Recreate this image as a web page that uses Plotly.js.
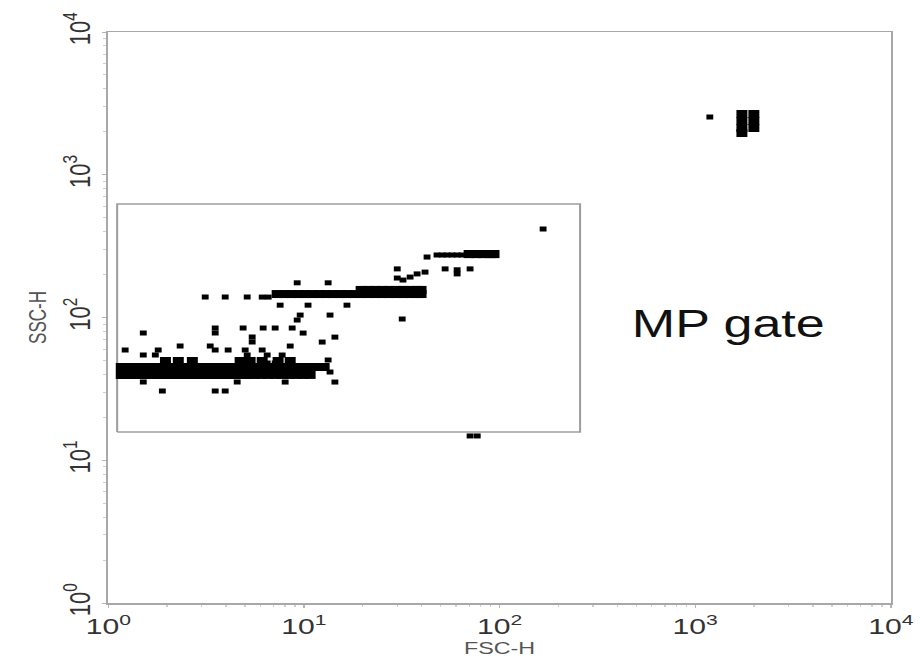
<!DOCTYPE html>
<html>
<head>
<meta charset="utf-8">
<script src="https://cdn.plot.ly/plotly-3.0.1.min.js"></script>
<style>
  html, body { margin: 0; padding: 0; background: #fff; }
  #wrap { width: 921px; height: 666px; overflow: hidden; }
  /* the cytometer export is a square plot stretched to a wide frame */
  #plot { width: 672px; height: 666px; transform: scaleX(1.3705); transform-origin: 0 0; }
</style>
</head>
<body>
<div id="wrap"><div id="plot"></div></div>
<script>
// Dense low-scatter population (SSC ~ 40-50)
const fscLowBand = [
  1.165, 1.265, 1.374, 1.492, 1.620, 1.759, 1.910, 2.074, 2.252, 2.445, 2.655, 2.883, 3.130, 3.399, 3.690,
  4.007, 4.351, 4.724, 5.130, 5.570, 6.048, 6.567, 7.131, 7.743, 8.407, 9.129, 9.91, 10.76, 11.69, 12.69,
  1.165, 1.265, 1.374, 1.492, 1.620, 1.759, 1.910, 2.074, 2.252, 2.445, 2.655, 2.883, 3.130, 3.399, 3.690,
  4.007, 4.351, 4.724, 5.130, 5.570, 6.048, 6.567, 7.131, 7.743, 8.407, 9.129, 9.91, 10.76,
  1.96, 2.28, 2.69, 4.72, 5.31, 6.12, 7.38, 8.51
];
const sscLowBand = [
  45.0, 45.0, 45.0, 45.0, 45.0, 45.0, 45.0, 45.0, 45.0, 45.0, 45.0, 45.0, 45.0, 45.0, 45.0,
  45.0, 45.0, 45.0, 45.0, 45.0, 45.0, 45.0, 45.0, 45.0, 45.0, 45.0, 45.0, 45.0, 45.0, 45.0,
  39.6, 39.6, 39.6, 39.6, 39.6, 39.6, 39.6, 39.6, 39.6, 39.6, 39.6, 39.6, 39.6, 39.6, 39.6,
  39.6, 39.6, 39.6, 39.6, 39.6, 39.6, 39.6, 39.6, 39.6, 39.6, 39.6, 39.6, 39.6,
  49.6, 49.6, 49.6, 49.6, 49.6, 49.6, 49.6, 49.6
];

// Middle population (SSC ~ 150)
const fscMidBand = [
  7.30, 7.93, 8.61, 9.35, 10.15, 11.02, 11.96, 12.99, 14.11, 15.32, 16.63, 18.06, 19.61, 21.29, 23.12,
  25.10, 27.26, 29.60, 32.14, 34.89, 37.89, 39.7,
  19.61, 21.29, 23.12, 25.10, 27.26, 29.60, 32.14, 34.89, 37.89, 39.7
];
const sscMidBand = [
  146, 146, 146, 146, 146, 146, 146, 146, 146, 146, 146, 146, 146, 146, 146,
  146, 146, 146, 146, 146, 146, 146,
  156, 156, 156, 156, 156, 156, 156, 156, 156, 156
];

// Upper population (SSC ~ 275)
const fscHighBand = [69.9, 75.9, 82.4, 89.4, 93.7];
const sscHighBand = [278, 278, 278, 278, 278];

// Calibration beads, far upper right
const fscBeads = [1733, 1995, 1733, 1995, 1733, 1995, 1733];
const sscBeads = [2665, 2665, 2380, 2380, 2126, 2126, 1961];

// Isolated single events
const fscEvents = [
  9.24, 13.3, 3.13, 3.96, 5.13, 6.12, 6.57, 7.56, 10.5, 16.6, 9.57, 13.6, 9.24,
  3.52, 4.89, 6.19, 7.13, 8.71, 1.51, 3.52, 9.91, 14.4, 5.44, 5.44, 12.4,
  2.33, 3.32, 8.51, 1.22, 1.80, 3.52, 4.10, 5.01, 6.12,
  1.51, 1.74, 5.13, 6.49, 7.74, 13.3, 6.49, 7.13, 13.6,
  1.51, 4.56, 8.02, 14.4, 1.89, 3.52, 3.96,
  30.0, 30.0, 31.8, 32.1, 34.9, 37.9, 41.6, 42.6, 52.7, 60.7, 60.7, 70.7,
  47.9, 50.9, 53.9, 57.2, 60.7, 64.3,
  167, 70.7, 76.9, 1188
];
const sscEvents = [
  175, 175, 139, 139, 139, 139, 139, 122, 122, 122, 104, 104, 96.0,
  84.4, 84.4, 84.4, 84.4, 84.4, 77.8, 77.8, 77.8, 72.9, 72.9, 67.3, 67.3,
  63.1, 63.1, 63.1, 59.2, 59.2, 59.2, 59.2, 59.2, 59.2,
  54.6, 54.6, 54.6, 54.6, 54.6, 50.4, 48.0, 48.0, 41.5,
  35.3, 35.3, 35.3, 35.3, 30.5, 30.5, 30.5,
  219, 189, 97.6, 183, 192, 202, 208, 265, 219, 216, 202, 219,
  274, 274, 274, 274, 274, 274,
  417, 14.8, 14.8, 2540
];

// MP gate bounds
const gateFSC = [1.11, 258];
const gateSSC = [15.8, 624];

const tickVals = [1, 10, 100, 1000, 10000];
const tickText = ['10<sup>0</sup>', '10<sup>1</sup>', '10<sup>2</sup>', '10<sup>3</sup>', '10<sup>4</sup>'];

const dot = (size) => ({ symbol: 'square', size: size, color: '#000', line: { width: 0 } });

const traces = [
  { x: [gateFSC[0], gateFSC[1], gateFSC[1], gateFSC[0], gateFSC[0]],
    y: [gateSSC[0], gateSSC[0], gateSSC[1], gateSSC[1], gateSSC[0]],
    mode: 'lines', line: { color: '#9e9e9e', width: 1.5 }, hoverinfo: 'skip' },
  { x: fscLowBand, y: sscLowBand, mode: 'markers', marker: dot(8) },
  { x: fscMidBand, y: sscMidBand, mode: 'markers', marker: dot(8) },
  { x: fscHighBand, y: sscHighBand, mode: 'markers', marker: dot(8) },
  { x: fscBeads, y: sscBeads, mode: 'markers', marker: dot(8) },
  { x: fscEvents, y: sscEvents, mode: 'markers', marker: dot(5) }
];

const axisBase = {
  type: 'log',
  range: [0, 4],
  tickmode: 'array',
  tickvals: tickVals,
  ticktext: tickText,
  ticks: 'outside',
  ticklen: 3,
  tickcolor: '#b5b5b5',
  showline: true,
  mirror: true,
  linecolor: '#a8a8a8',
  linewidth: 1.5,
  showgrid: false,
  zeroline: false,
  tickfont: { family: 'Liberation Sans, Arial, sans-serif', size: 22, color: '#333' },
  minor: { ticks: 'outside', ticklen: 2, tickcolor: '#cfcfcf', dtick: 'D1' }
};

const layout = {
  width: 672,
  height: 666,
  margin: { l: 79, r: 22, t: 32, b: 63 },
  paper_bgcolor: '#fff',
  plot_bgcolor: '#fff',
  showlegend: false,
  xaxis: Object.assign({}, axisBase, {
    title: { text: 'FSC-H', font: { family: 'Liberation Sans, Arial, sans-serif', size: 17, color: '#555' }, standoff: 2 }
  }),
  yaxis: Object.assign({}, axisBase, {
    tickangle: -90,
    title: { text: 'SSC-H', font: { family: 'Liberation Sans, Arial, sans-serif', size: 17, color: '#555' }, standoff: 4 }
  }),
  annotations: [{
    xref: 'paper', yref: 'paper', x: 0.792, y: 0.4886,
    text: 'MP gate', showarrow: false,
    font: { family: 'Liberation Sans, Arial, sans-serif', size: 38, color: '#111' },
    xanchor: 'center', yanchor: 'middle'
  }]
};

Plotly.newPlot('plot', traces, layout, { displayModeBar: false, staticPlot: true });
</script>
</body>
</html>
